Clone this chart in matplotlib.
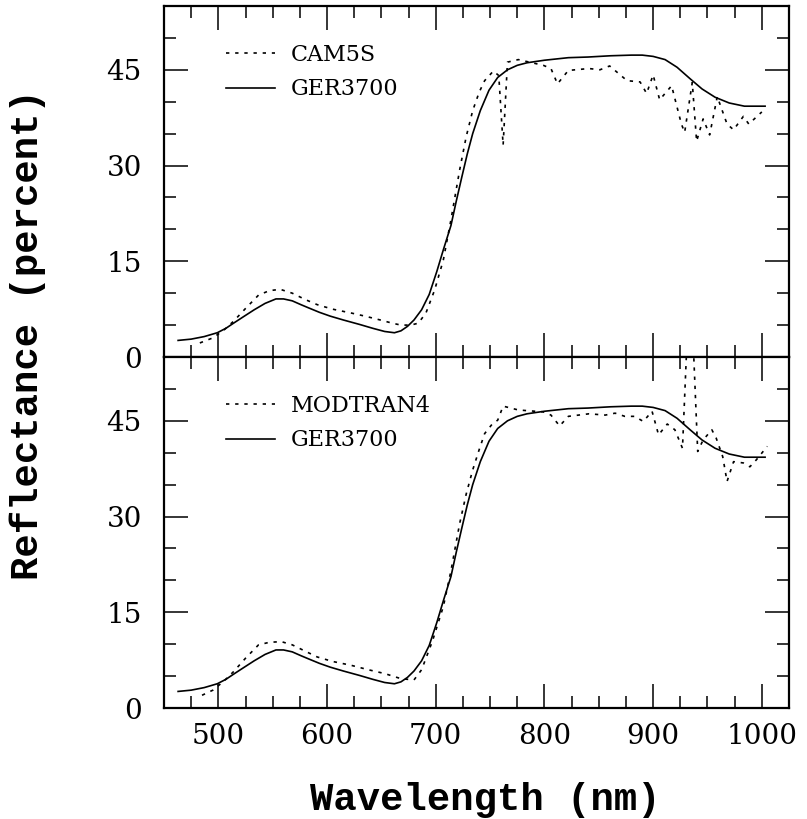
import matplotlib
matplotlib.use("Agg")
import matplotlib.pyplot as plt
from matplotlib.ticker import MultipleLocator

# ---- data ----
ger_wl = [463, 475, 487, 499, 507, 514, 523, 533, 543, 553, 560, 568, 576, 583, 593,
          603, 615, 630, 642, 653, 662, 668, 674, 680, 687, 694, 701, 707, 714, 719,
          724, 729, 734, 741, 749, 757, 766, 775, 784, 800, 822, 840, 861, 880, 890,
          900, 911, 922, 934, 945, 957, 970, 984, 1003]
ger_r = [2.6, 2.8, 3.2, 3.8, 4.5, 5.3, 6.3, 7.4, 8.4, 9.1, 9.1, 8.8, 8.2, 7.7, 7.0,
         6.4, 5.8, 5.1, 4.5, 4.0, 3.8, 4.1, 4.8, 5.8, 7.4, 9.8, 13.4, 16.8, 20.6, 24.5,
         28.2, 31.8, 35.0, 38.6, 41.8, 43.8, 45.0, 45.7, 46.1, 46.5, 46.9, 47.0, 47.2, 47.3, 47.3,
         47.1, 46.6, 45.4, 43.6, 42.0, 40.7, 39.8, 39.3, 39.3]

cam_wl = [483, 495, 505, 514, 525, 537, 547, 557, 568, 580, 591, 605, 622, 635, 649,
          660, 668, 677, 684, 691, 699, 707, 714, 722, 728, 734, 740, 745, 753, 758,
          762, 766, 776, 799, 806, 812, 822, 841, 851, 860, 876, 888, 894, 900, 906,
          917, 926, 929, 936, 940, 946, 952, 959, 968, 974, 983, 988, 1000]
cam_r = [2.2, 3.0, 4.2, 5.6, 7.6, 9.7, 10.4, 10.6, 10.0, 9.0, 8.2, 7.5, 6.9, 6.4, 5.8,
         5.3, 5.0, 5.0, 5.3, 6.9, 10.5, 15.2, 21.5, 29.3, 34.5, 38.6, 41.5, 43.3, 44.8, 44.1,
         33.2, 46.2, 46.6, 45.7, 45.2, 42.8, 44.9, 45.2, 45.0, 45.6, 43.3, 43.1, 41.3, 44.2, 40.3,
         42.5, 36.5, 35.2, 43.0, 33.8, 37.3, 34.8, 40.8, 36.5, 35.6, 37.7, 36.5, 38.4]

mod_wl = [485, 495, 505, 514, 525, 537, 547, 558, 568, 580, 591, 605, 622, 638, 653,
          668, 680, 687, 697, 707, 714, 722, 728, 734, 740, 745, 752, 757, 762, 776,
          799, 806, 814, 822, 841, 856, 865, 874, 883, 891, 899, 905, 913, 920, 927,
          934, 941, 946, 954, 958, 964, 968, 974, 983, 989, 995, 1005]
mod_r = [2.0, 2.8, 4.2, 5.7, 7.8, 9.9, 10.3, 10.4, 9.9, 8.9, 8.0, 7.3, 6.7, 6.0, 5.4,
         4.6, 4.4, 6.0, 10.5, 15.9, 21.5, 28.9, 33.5, 37.3, 40.5, 43.0, 44.5, 45.1, 47.3, 46.7,
         46.4, 45.9, 44.2, 45.7, 46.1, 45.9, 46.2, 45.7, 45.7, 44.9, 46.5, 42.8, 44.5, 43.6, 40.7,
         69.0, 40.2, 42.0, 43.6, 42.3, 39.4, 35.5, 38.6, 38.4, 37.8, 38.9, 41.0]

y_ticks = [0, 15, 30, 45]
x_ticks = [500, 600, 700, 800, 900, 1000]

# ---- figure ----
fig = plt.figure(figsize=(8.07, 8.19), dpi=100)
ax1 = fig.add_axes([0.2032, 0.5641, 0.7745, 0.4286])
ax2 = fig.add_axes([0.2032, 0.1355, 0.7745, 0.4286])

tick_font = dict(family="DejaVu Serif", size=20)
dot = (0, (2.0, 3.5))

panels = [(ax1, cam_wl, cam_r, "CAM5S"), (ax2, mod_wl, mod_r, "MODTRAN4")]
for ax, wl, r, name in panels:
    ax.plot(wl, r, color="black", lw=1.2, linestyle=dot, label=name)
    ax.plot(ger_wl, ger_r, color="black", lw=1.2, label="GER3700")
    ax.set_xlim(450, 1025)
    ax.set_ylim(0, 55)
    ax.set_yticks(y_ticks)
    ax.set_xticks(x_ticks)
    ax.xaxis.set_minor_locator(MultipleLocator(25))
    ax.yaxis.set_minor_locator(MultipleLocator(5))
    ax.tick_params(which="both", direction="in", top=True, right=True, width=1.1)
    ax.tick_params(which="major", length=17)
    ax.tick_params(which="minor", length=8.5)
    ax.tick_params(axis="y", pad=16)
    ax.tick_params(axis="x", pad=11)
    for sp in ax.spines.values():
        sp.set_linewidth(1.6)
    for lab in ax.get_yticklabels() + ax.get_xticklabels():
        lab.set_fontfamily(tick_font["family"])
        lab.set_fontsize(tick_font["size"])
    ax.legend(loc="upper left", bbox_to_anchor=(0.10, 0.893), frameon=False,
              handlelength=2.2, handletextpad=0.68, labelspacing=0.58,
              borderaxespad=0, borderpad=0,
              prop=dict(family="DejaVu Serif", size=16))

ax1.tick_params(axis="x", labelbottom=False)

fig.text(485 / 807, 1 - 800 / 819, "Wavelength (nm)", ha="center", va="center",
         family="Liberation Mono", weight="bold", fontsize=28)
fig.text(28 / 807, 1 - 335 / 819, "Reflectance (percent)", ha="center", va="center",
         rotation=90, family="Liberation Mono", weight="bold", fontsize=28)

fig.savefig("out.png", dpi=100)
